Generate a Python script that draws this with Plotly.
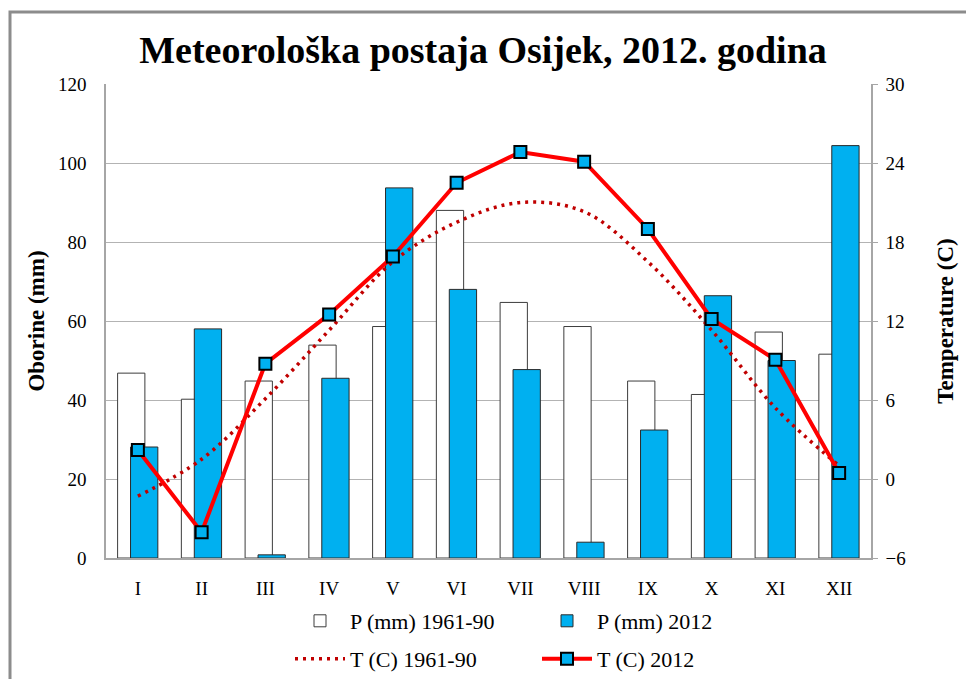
import plotly.graph_objects as go

months = ["I", "II", "III", "IV", "V", "VI", "VII", "VIII", "IX", "X", "XI", "XII"]
p_1961_90 = [46.8, 40.2, 44.8, 53.9, 58.6, 88.0, 64.7, 58.6, 44.8, 41.4, 57.2, 51.6]
p_2012 = [28.1, 58.0, 0.8, 45.5, 93.7, 68.0, 47.7, 4.0, 32.4, 66.4, 50.0, 104.4]
t_1961_90 = [-1.3, 1.5, 6.1, 11.3, 16.5, 19.5, 21.0, 20.3, 16.5, 11.3, 5.4, 1.0]
t_2012 = [2.2, -4.05, 8.76, 12.5, 16.9, 22.5, 24.83, 24.1, 18.99, 12.15, 9.06, 0.45]

left_ticks = [0, 20, 40, 60, 80, 100, 120]
right_ticks = [-6, 0, 6, 12, 18, 24, 30]

W, H = 966, 679
ML, MR, MT, MB = 106, 95, 84, 121
PW, PH = W - ML - MR, H - MT - MB

def px_x(px):
    return (px - ML) / PW

def px_y(py):
    return (H - MB - py) / PH

FONT = "Liberation Serif, Times New Roman, serif"
BLUE = "#00B0F0"

fig = go.Figure()
fig.add_trace(go.Bar(
    x=months, y=p_1961_90, name="P (mm) 1961-90",
    marker=dict(color="white", line=dict(color="#3c3c3c", width=1)),
    width=0.428, offset=-0.318, legend="legend",
))
fig.add_trace(go.Bar(
    x=months, y=p_2012, name="P (mm) 2012",
    marker=dict(color=BLUE, line=dict(color="#2a2a2a", width=1)),
    width=0.428, offset=-0.115, legend="legend",
))
fig.add_trace(go.Scatter(
    x=months, y=t_1961_90, name="T (C) 1961-90", yaxis="y2",
    mode="lines", line=dict(color="#C00000", width=3.5, dash="3px,5px", shape="spline"),
    legend="legend2",
))
fig.add_trace(go.Scatter(
    x=months, y=t_2012, name="T (C) 2012", yaxis="y2",
    mode="lines+markers", line=dict(color="#FF0000", width=4),
    marker=dict(symbol="square", size=12, color=BLUE, line=dict(color="black", width=2)),
    legend="legend2",
))

axis_gray = "#a6a6a6"
legend_common = dict(
    orientation="h", xref="container", x=290 / W, xanchor="left",
    yref="container", yanchor="middle",
    font=dict(family=FONT, size=22), itemwidth=50, entrywidth=182, entrywidthmode="pixels",
    bgcolor="rgba(0,0,0,0)", tracegroupgap=0,
)
fig.update_layout(
    width=W, height=H,
    margin=dict(l=ML, r=MR, t=MT, b=MB, pad=0, autoexpand=False),
    paper_bgcolor="white", plot_bgcolor="white",
    font=dict(family=FONT, size=19, color="black"),
    barmode="overlay",
    title=dict(
        text="<b>Meteorološka postaja Osijek, 2012. godina</b>",
        font=dict(family=FONT, size=38, color="black"),
        x=0.5, xref="container", xanchor="center",
        y=1 - 50 / H, yref="container", yanchor="middle",
    ),
    xaxis=dict(
        range=[-0.5, 11.5], autorange=False,
        showgrid=False, showline=True, linecolor=axis_gray, linewidth=1.5,
        ticks="", tickfont=dict(size=19), ticklabelstandoff=12,
        mirror=False,
    ),
    yaxis=dict(
        range=[0, 120], tickvals=left_ticks, showgrid=True, gridcolor="#b3b3b3", gridwidth=1,
        showline=True, linecolor=axis_gray, linewidth=1.5, ticks="",
        tickfont=dict(size=19), ticklabelstandoff=14, zeroline=False,
        title=dict(text="<b>Oborine (mm)</b>", font=dict(size=23), standoff=7),
    ),
    yaxis2=dict(
        range=[-6, 30], tickvals=right_ticks, overlaying="y", side="right",
        showgrid=False, zeroline=False, showline=True, linecolor=axis_gray, linewidth=1.5,
        ticks="outside", ticklen=5, tickcolor=axis_gray, tickwidth=1,
        tickfont=dict(size=19), ticklabelstandoff=4,
        title=dict(text="<b>Temperature (C)</b>", font=dict(size=23), standoff=32),
    ),
    legend=dict(legend_common, y=1 - 621 / H),
    legend2=dict(legend_common, y=1 - 659 / H),
    shapes=[dict(
        type="rect", xref="paper", yref="paper",
        x0=px_x(10), x1=px_x(W + 10), y0=px_y(H + 10), y1=px_y(12),
        line=dict(color="#8c8c8c", width=3), fillcolor="rgba(0,0,0,0)", layer="below",
    )],
    showlegend=True,
)

fig.write_html("out.html", config={"displayModeBar": False},
               post_script="document.body.style.margin='0';")
